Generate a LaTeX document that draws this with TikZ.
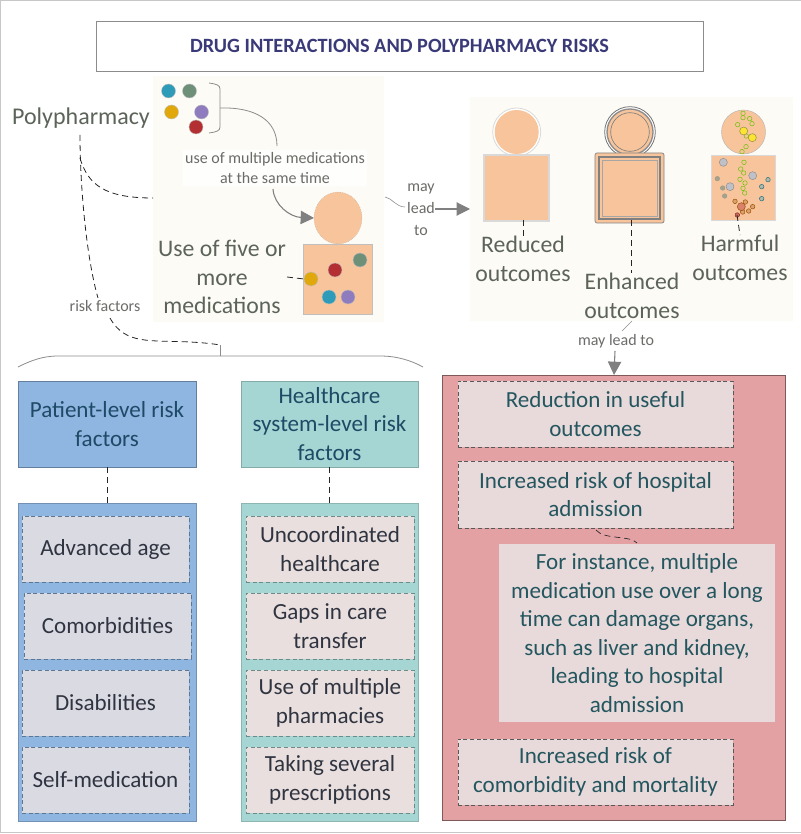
\documentclass[tikz,border=0pt]{standalone}
\usepackage{fontspec}
\setmainfont{Carlito}
\usetikzlibrary{arrows.meta,shapes.geometric}
\definecolor{skin}{HTML}{F8C49B}
\definecolor{pale}{HTML}{FDFBF6}
\definecolor{gtext}{HTML}{5C6459}
\definecolor{ltext}{HTML}{6B6B68}
\definecolor{navy}{HTML}{3A3A78}
\definecolor{bluef}{HTML}{8FB5E1}
\definecolor{tealf}{HTML}{A6D6D3}
\definecolor{redf}{HTML}{E3A1A4}
\definecolor{tealtext}{HTML}{24565F}
\definecolor{bluetext}{HTML}{1E4A66}
\definecolor{dark}{HTML}{2F3440}
\definecolor{gbox}{HTML}{DADAE3}
\definecolor{pbox}{HTML}{E9DFDE}
\definecolor{rbox}{HTML}{E8DADA}
\definecolor{medteal}{HTML}{2E9CB8}
\definecolor{medgreen}{HTML}{6E8F78}
\definecolor{medyellow}{HTML}{E0A80C}
\definecolor{medpurple}{HTML}{8F7CBE}
\definecolor{medred}{HTML}{B32F32}
\newcommand{\bx}[7]{%
  \pgfmathsetmacro{\cxx}{(#3+#5)/2}\pgfmathsetmacro{\cyy}{(#4+#6)/2}%
  \pgfmathsetmacro{\www}{(#5-#3)*0.75}\pgfmathsetmacro{\hhh}{(#6-#4)*0.75}%
  \node[#2,minimum width=\www pt,minimum height=\hhh pt] (#1) at (\cxx,\cyy) {#7};}
\tikzset{
  x=0.75pt,y=-0.75pt,
  every node/.style={inner sep=0pt,outer sep=0pt,align=center},
  body/.style={font=\fontsize{17.3}{21.4}\selectfont},
  small/.style={font=\fontsize{12}{15}\selectfont,text=ltext},
  big/.style={font=\fontsize{17.8}{21.4}\selectfont,text=gtext},
  panel/.style={fill=pale},
  ttlbox/.style={draw=black!45,fill=white,line width=.6pt,font=\fontsize{15.2}{18}\bfseries\selectfont,text=navy},
  headblue/.style={body,fill=bluef,draw=black!30!bluef,line width=.5pt,text=bluetext},
  headteal/.style={body,fill=tealf,draw=black!20!tealf,line width=.5pt,text=bluetext},
  groupblue/.style={fill=bluef,draw=black!20!bluef,line width=.5pt},
  groupteal/.style={fill=tealf,draw=black!15!tealf,line width=.5pt},
  groupred/.style={fill=redf,draw=black!45!redf,line width=.7pt},
  itemblue/.style={body,fill=gbox,draw=black!35!bluef,densely dashed,line width=.4pt,text=dark},
  itemteal/.style={body,fill=pbox,draw=black!35!tealf,densely dashed,line width=.4pt,text=dark},
  itemred/.style={body,fill=rbox,draw=black!65,densely dashed,line width=.4pt,text=tealtext},
  noterd/.style={body,fill=rbox,text=tealtext},
  flesh/.style={fill=skin},
  med/.style={circle,minimum size=10.5pt,draw=black!25,line width=.3pt},
  dashconn/.style={draw=black!85,dash pattern=on 4.5pt off 3pt,line width=.6pt},
  thinconn/.style={draw=black!45,line width=.6pt},
  arrowconn/.style={draw=black!50,line width=.8pt,-{Triangle[length=10pt,width=10pt,fill=black!50]}},
  labelbg/.style={small,fill=white},
  dot/.style={circle,line width=.35pt,fill=skin},
}
\begin{document}
\begin{tikzpicture}
\useasboundingbox (0,0) rectangle (800,834);
\draw[black!22,line width=.9pt] (0.5,0.5) rectangle (810,832.5);

\bx{title}{ttlbox}{96}{21}{703}{71}{DRUG INTERACTIONS AND POLYPHARMACY RISKS}
\bx{panelA}{panel}{153}{76}{384}{322}{}
\bx{panelB}{panel}{470}{97}{793}{321}{}

\node[big,font=\fontsize{18}{21}\selectfont] (poly) at (81,118) {Polypharmacy};

% pills
\node[med,fill=medteal] (m1) at (168.5,91) {};
\node[med,fill=medgreen] (m2) at (189.5,91) {};
\node[med,fill=medyellow] (m3) at (171.5,112) {};
\node[med,fill=medpurple] (m4) at (201.5,112) {};
\node[med,fill=medred] (m5) at (196,127) {};
\coordinate (brT) at (209,83);
\coordinate (brB) at (209,133);
\coordinate (brM) at (220,108);
\draw[thinconn] (brT) .. controls (216,84) and (220,85) .. (220,89) -- (220,127) .. controls (220,131) and (216,132) .. (brB);

% head and body
\node[fill=skin,draw=black!35,densely dotted,line width=.3pt,ellipse,minimum width=36pt,minimum height=39pt,inner sep=0pt] (headA) at (338,218) {};
\bx{bodyA}{flesh,draw=black!25,line width=.3pt}{303}{244}{372}{314}{}
\node[med,fill=medyellow] (n1) at (311,279) {};
\node[med,fill=medred] (n2) at (335,270) {};
\node[med,fill=medgreen] (n3) at (360,260) {};
\node[med,fill=medteal] (n4) at (329,297) {};
\node[med,fill=medpurple] (n5) at (348,297) {};

\node[labelbg,fill=pale!30!white,inner sep=2pt] (usemult) at (275,168) {use of multiple medications\\at the same time};
\node[big] (use5) at (222,277) {Use of five or\\more\\medications};

\coordinate (cuT) at (277,146);
\coordinate (cuB) at (273,189);
\coordinate (dU) at (287,277);
\draw[thinconn] (brM) .. controls (255,107) and (277,120) .. (cuT);
\draw[arrowconn] (cuB) .. controls (274,205) and (290,217) .. (headA.west);
\draw[dashconn] (dU) -- (n1.west);

% left dashed
\coordinate (polyB) at (80,135);
\coordinate (polyC) at (80,158);
\coordinate (aTop) at (153,198);
\node[small] (rf) at (105,306) {risk factors};
\coordinate (rfT) at (98,298);
\coordinate (rfB) at (110,318);
\coordinate (brcTip) at (220,345);
\coordinate (brcMid) at (220,356);
\draw[dashconn] (polyB) .. controls (80,190) and (87,260) .. (rfT);
\draw[dashconn] (rfB) .. controls (125,345) and (150,340) .. (190,342) .. controls (210,343) and (220,345) .. (brcTip);
\draw[dashconn] (polyC) .. controls (88,185) and (105,198) .. (aTop);
\draw[thinconn] (brcTip) -- (brcMid);
\draw[thinconn] (18,367) .. controls (30,361) and (42,356) .. (58,356) -- (380,356) .. controls (398,356) and (412,361) .. (423,367);

% outcomes
\node[small] (may1) at (421,210) {may\\[1.5pt]lead\\[1.5pt]to};
\coordinate (mayL) at (385,197);
\coordinate (mayR) at (405,207);
\coordinate (arA) at (435,209);
\coordinate (arB) at (470,209);
\draw[thinconn,line width=.45pt] (mayL) .. controls (392,198) and (396,207) .. (mayR);
\draw[arrowconn] (arA) -- (arB);

% reduced
\node[circle,draw=black!15,fill=white,minimum size=36pt,line width=.6pt] (hR0) at (516.7,132) {};
\node[circle,fill=skin,minimum size=33pt] (hR) at (516.7,132) {};
\bx{bR}{flesh,draw=black!15,line width=1.6pt}{484}{155}{549}{221}{}
\node[big] (tR) at (523,259) {Reduced\\outcomes};
\coordinate (dR1) at (523,220);
\coordinate (dR2) at (523,236);
\draw[dashconn] (dR1) -- (dR2);

% enhanced
\node[circle,draw=black!55,fill=white,minimum size=38pt,line width=.6pt] (hE0) at (630,132) {};
\node[circle,draw=black!45,fill=skin,minimum size=34.5pt,line width=1pt] (hE1) at (630,132) {};
\node[circle,draw=black!50,fill=skin,minimum size=29pt,line width=.5pt] (hE) at (630,132) {};
\bx{bE0}{flesh,draw=black!50,line width=.5pt,rounded corners=1.5pt}{595}{153}{664}{223}{}
\bx{bE1}{flesh,draw=black!50,line width=1.4pt}{599}{157}{660}{219}{}
\bx{bE2}{flesh,draw=black!35,line width=.7pt}{602}{160}{657}{216}{}
\node[big] (tE) at (632,296) {Enhanced\\outcomes};
\coordinate (dE1) at (631,220);
\coordinate (dE2) at (631,273);
\draw[dashconn] (dE1) -- (dE2);

% harmful
\node[circle,fill=skin,draw=black!30,line width=.3pt,minimum size=33pt] (hH) at (743.5,132) {};
\bx{bH}{flesh,draw=black!15,line width=.3pt}{711}{155}{775}{220}{}
\begin{scope}[shift={(380,80)},x=0.25pt,y=-0.25pt]
\foreach \a/\b in {1089/100,1089/113,1109/116,1116/131,1073/134,1099/168,1098/200,1086/215,1092/247,1082/267,1091/279,1080/298,1095/309,1089/325,1094/339}
  \node[dot,draw=black!40!green!60!yellow,minimum size=3.4pt] at (\a,\b) {};
\foreach \a/\b in {1091/153,1117/173}
  \node[dot,draw=black!50!yellow,fill=yellow!70!skin,minimum size=6pt] at (\a,\b) {};
\foreach \a/\b in {1030/247,1118/287,1050/320}
  \node[dot,draw=black!45,fill=black!12!gbox,minimum size=6pt] at (\a,\b) {};
\foreach \a/\b in {1012/296,1028/324,1034/348}
  \node[dot,draw=black!40,fill=medgreen!60!skin,minimum size=3.4pt] at (\a,\b) {};
\foreach \a/\b in {1164/299,1145/320,1145/356}
  \node[dot,draw=medteal!70!black,fill=medteal!35!skin,minimum size=3.4pt] at (\a,\b) {};
\foreach \a/\b in {1065/364,1096/366,1118/380,1106/393,1088/396}
  \node[dot,draw=black!40!orange,fill=brown!50!skin,minimum size=3.4pt] at (\a,\b) {};
\node[dot,draw=black!40!orange,fill=medred!45!skin,minimum size=6pt] at (1084,380) {};
\node[dot,draw=medred!70!black,fill=medred!60!skin,minimum size=3.4pt] at (1072,405) {};
\end{scope}
\node[big] (tH) at (740,258) {Harmful\\outcomes};
\coordinate (dH1) at (737,215);
\coordinate (dH2) at (740,235);
\draw[dashconn] (dH1) -- (dH2);

% may lead to
\node[small] (may2) at (616,341) {may lead to};
\coordinate (sl1) at (632,321);
\coordinate (sl2) at (622,331);
\draw[thinconn,line width=.45pt] (sl1) -- (sl2);

% red group
\bx{grpR}{groupred}{442}{375}{785}{820}{}
\coordinate (arC) at (615,351);
\coordinate (arD) at (614,375);
\draw[arrowconn] (arC) -- (arD);
\bx{r1}{itemred}{458}{381}{733}{447}{Reduction in useful\\outcomes}
\bx{r2}{itemred}{458}{461}{733}{528}{Increased risk of hospital\\admission}
\bx{r3}{noterd}{499}{544}{775}{722}{For instance, multiple\\medication use over a long\\time can damage organs,\\such as liver and kidney,\\leading to hospital\\admission}
\bx{r4}{itemred}{458}{739}{733}{805}{Increased risk of\\comorbidity and mortality}
\coordinate (r2a) at (596,530);
\coordinate (r3a) at (637,543);
\draw[dashconn,line width=.5pt] (r2a) .. controls (604,540) and (630,535) .. (r3a);

% blue
\bx{hB}{headblue}{18}{381}{196}{467}{Patient-level risk\\factors}
\bx{gB}{groupblue}{18}{503}{196}{821}{}
\draw[dashconn] (hB.south) -- (gB.north);
\bx{b1}{itemblue}{22}{516}{189}{582}{Advanced age}
\bx{b2}{itemblue}{24}{593}{191}{659}{Comorbidities}
\bx{b3}{itemblue}{22}{670}{189}{736}{Disabilities}
\bx{b4}{itemblue}{22}{747}{189}{813}{Self-medication}

% teal
\bx{hT}{headteal}{241}{381}{418}{467}{Healthcare\\system-level risk\\factors}
\bx{gT}{groupteal}{241}{503}{418}{821}{}
\draw[dashconn] (hT.south) -- (gT.north);
\bx{t1}{itemteal}{246}{516}{414}{582}{Uncoordinated\\healthcare}
\bx{t2}{itemteal}{246}{593}{414}{659}{Gaps in care\\transfer}
\bx{t3}{itemteal}{246}{670}{414}{736}{Use of multiple\\pharmacies}
\bx{t4}{itemteal}{246}{747}{414}{813}{Taking several\\prescriptions}
\end{tikzpicture}
\end{document}
